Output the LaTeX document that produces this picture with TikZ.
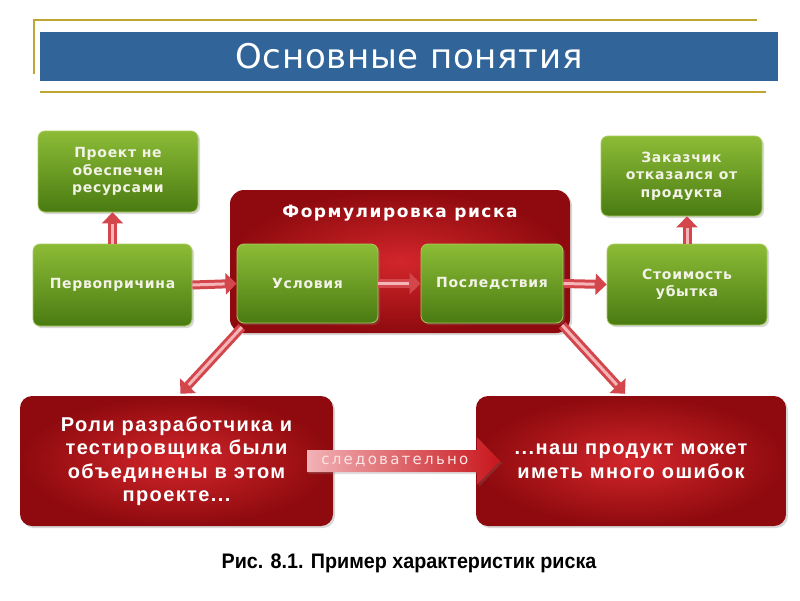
\documentclass[tikz,border=0pt]{standalone}
\usepackage{fontspec}
\setmainfont{DejaVu Sans}
\newfontfamily\titlefont[LetterSpace=2]{DejaVu Sans}
\newfontfamily\gfont[LetterSpace=5]{DejaVu Sans}
\newfontfamily\ffont[LetterSpace=9]{DejaVu Sans}
\newfontfamily\rfont[LetterSpace=7]{Liberation Sans}
\newfontfamily\sfont[LetterSpace=15]{DejaVu Sans}
\newfontfamily\capfont[FakeStretch=0.94]{Liberation Sans}
\usetikzlibrary{arrows.meta,shadows,calc}
\definecolor{barblue}{HTML}{31659A}
\definecolor{gold}{HTML}{C0A632}
\definecolor{gtop}{HTML}{8CBC36}
\definecolor{gbot}{HTML}{4A7B12}
\definecolor{gedge}{HTML}{A9CB5A}
\definecolor{rin}{HTML}{D2262B}
\definecolor{rout}{HTML}{8E0A0E}
\definecolor{arred}{HTML}{D2464C}
\definecolor{arlight}{HTML}{F4B4B8}
\definecolor{arleft}{HTML}{F2B2B6}
\definecolor{arright}{HTML}{C8161C}
\definecolor{gtext}{HTML}{F2F2E6}
\definecolor{stext}{HTML}{FBE4E4}
\begin{document}
\begin{tikzpicture}[x=1pt,y=-1pt,
  gbox/.style={rectangle, rounded corners=7pt, top color=gtop, bottom color=gbot,
    draw=gedge, line width=0.8pt, text=gtext, align=center, inner sep=2pt,
    font=\gfont\bfseries\fontsize{14}{17.5}\selectfont,
    drop shadow={opacity=0.3,shadow xshift=2pt,shadow yshift=-2pt}},
  rbox/.style={rectangle, rounded corners=12pt, inner color=rin, outer color=rout,
    text=white, align=center, inner sep=2pt,
    font=\rfont\bfseries\fontsize{20}{23.5}\selectfont,
    drop shadow={opacity=0.3,shadow xshift=2pt,shadow yshift=-2pt}},
  fat/.style={draw=arred, line width=9pt, -{Triangle[length=11pt,width=21pt]},
    postaction={draw=arlight, line width=3pt, -, shorten >=12pt}},
  titlebar/.style={rectangle, fill=barblue, text=white, inner sep=0pt,
    font=\titlefont\fontsize{34}{40}\selectfont},
  goldline/.style={draw=gold, line width=2pt},
  caption/.style={font=\capfont\bfseries\fontsize{21}{25}\selectfont, text=black},
  sotext/.style={font=\sfont\fontsize{15}{18}\selectfont, text=stext}
]
\useasboundingbox[fill=white] (0,0) rectangle (800,600);

% header
\draw[goldline] (34,74) -- (34,20) -- (757,20);
\draw[goldline] (40,92) -- (766,92);
\node[titlebar, minimum width=738pt, minimum height=49pt] (title) at (409,56.5) {Основные понятия};

% boxes
\node[rbox, minimum width=340pt, minimum height=143pt, rounded corners=14pt] (form) at (400,261.5) {};
\node[font=\ffont\bfseries\fontsize{17}{20}\selectfont, text=white] (formt) at (400,213) {Формулировка риска};

\node[gbox, minimum width=160pt, minimum height=81pt] (proj) at (118,171.5) {Проект не\\обеспечен\\ресурсами};
\node[gbox, minimum width=159pt, minimum height=82pt] (perv) at (112.5,285) {Первопричина};
\node[gbox, minimum width=141pt, minimum height=79pt] (usl) at (307.5,283.5) {Условия};
\node[gbox, minimum width=142pt, minimum height=79pt] (posl) at (492,283.5) {Последствия};
\node[gbox, minimum width=161pt, minimum height=80pt] (zak) at (681.5,176) {Заказчик\\отказался от\\продукта};
\node[gbox, minimum width=160pt, minimum height=81pt] (stoim) at (687,284.5) {Стоимость\\убытка};

\node[rbox, minimum width=313pt, minimum height=130pt] (roli) at (176.5,461) {Роли разработчика и\\тестировщика были\\объединены в этом\\проекте...};
\node[rbox, minimum width=310pt, minimum height=130pt] (nash) at (631,461) {...наш продукт может\\иметь много ошибок};

% arrows
\draw[fat] (perv.north) -- (perv.north |- proj.south);
\draw[fat] (stoim.north) -- (stoim.north |- zak.south);
\draw[fat] (perv.east) -- (usl.west);
\draw[fat] (usl.east) -- (posl.west);
\draw[fat] (posl.east) -- (stoim.west);
\draw[fat] ($(form.south west)+(12,-6)$) -- ([xshift=4pt,yshift=2pt]roli.north);
\draw[fat] ($(form.south east)+(-8,-8)$) -- ([xshift=-6pt,yshift=2pt]nash.north);

% big arrow "следовательно"
\coordinate (sa) at ([xshift=-26pt]roli.east);
\coordinate (sb) at ([xshift=24pt]nash.west);
\path[left color=arleft, right color=arright, drop shadow={opacity=0.25,shadow xshift=2pt,shadow yshift=-2pt}]
  ($(sa)+(0,-11)$) -- ($(sb)+(-23,-11)$) -- ($(sb)+(-23,-24)$) -- (sb)
  -- ($(sb)+(-23,24)$) -- ($(sb)+(-23,11)$) -- ($(sa)+(0,11)$) -- cycle;
\node[sotext] (sled) at ($(sa)!0.455!(sb)$) {следовательно};

% caption
\node[caption] (cap) at (409,563) {Рис. 8.1. Пример характеристик риска};
\end{tikzpicture}
\end{document}
